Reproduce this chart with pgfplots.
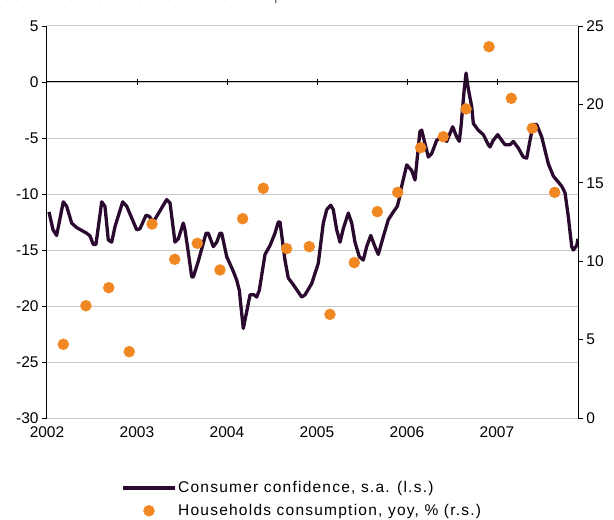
\documentclass[border=0pt]{standalone}
\usepackage{pgfplots}
\pgfplotsset{compat=1.18}
\usepackage{fontspec}
\setmainfont{Liberation Sans}

\definecolor{conf}{RGB}{42,10,46}
\definecolor{cons}{RGB}{240,135,35}
\definecolor{gridgray}{RGB}{200,200,200}

\pgfplotsset{
  base/.style={
    width=531bp, height=392bp, scale only axis,
    xmin=2002, xmax=2007.9,
    tick label style={font=\fontsize{15.5bp}{18bp}\selectfont},
    /pgf/number format/assume math mode=true,
    /pgf/number format/set thousands separator={},
    tick align=outside, major tick length=5bp,
    every tick/.style={black, line width=0.8bp},
    axis line style={black, line width=1bp},
  },
  lineleg/.style={legend image code/.code={\draw[##1] (0bp,0bp) -- (52bp,0bp);}},
  dotleg/.style={legend image code/.code={\draw[##1] plot coordinates {(26bp,0bp)};}},
}

\begin{document}
\begin{tikzpicture}
\begin{axis}[base,
  ymin=-30, ymax=5, ytick={-30,-25,...,5},
  axis y line*=left, axis x line*=bottom,
  x axis line style={draw=none},
  xtick={2002,...,2007}, xtick style={draw=none},
  ymajorgrids, grid style={gridgray, line width=1bp},
  legend style={draw=none, fill=none, at={(0.134,-0.153)}, anchor=north west,
    font=\fontsize{15.5bp}{18bp}\selectfont\addfontfeatures{LetterSpace=8},
    row sep=7bp, nodes={inner sep=1.5bp}},
  legend cell align=left,
]
\addplot[conf, line width=3.3bp, line join=round, lineleg]
coordinates {
(2002.022,-11.6) (2002.067,-13.2) (2002.107,-13.7) (2002.181,-10.7) (2002.219,-11.1)
(2002.274,-12.6) (2002.330,-13.0) (2002.441,-13.5) (2002.478,-13.75) (2002.514,-14.5)
(2002.544,-14.5) (2002.608,-10.7) (2002.644,-11.1) (2002.681,-14.1) (2002.719,-14.3)
(2002.756,-12.9) (2002.841,-10.7) (2002.886,-11.1) (2002.997,-13.2) (2003.033,-13.1)
(2003.100,-11.9) (2003.137,-12.0) (2003.181,-12.5) (2003.330,-10.5) (2003.367,-10.8)
(2003.422,-14.3) (2003.459,-14.0) (2003.514,-12.6) (2003.533,-13.2) (2003.570,-15.2)
(2003.608,-17.4) (2003.626,-17.4) (2003.681,-16.0) (2003.719,-14.9) (2003.767,-13.5)
(2003.792,-13.5) (2003.848,-14.7) (2003.886,-14.3) (2003.922,-13.5) (2003.941,-13.5)
(2003.997,-15.6) (2004.070,-16.9) (2004.108,-17.7) (2004.137,-18.6) (2004.152,-19.8)
(2004.181,-22.0) (2004.219,-20.5) (2004.256,-19.0) (2004.300,-19.0) (2004.330,-19.2)
(2004.359,-18.6) (2004.422,-15.4) (2004.478,-14.6) (2004.533,-13.5) (2004.570,-12.5)
(2004.589,-12.5) (2004.644,-15.9) (2004.681,-17.5) (2004.737,-18.1) (2004.830,-19.2)
(2004.867,-19.0) (2004.941,-18.0) (2005.014,-16.2) (2005.070,-12.6) (2005.108,-11.4)
(2005.152,-11.0) (2005.181,-11.4) (2005.219,-13.2) (2005.256,-14.3) (2005.292,-13.1)
(2005.348,-11.7) (2005.386,-12.6) (2005.422,-14.3) (2005.470,-15.6) (2005.514,-15.9)
(2005.552,-14.7) (2005.597,-13.7) (2005.644,-14.7) (2005.681,-15.4) (2005.737,-13.8)
(2005.792,-12.3) (2005.848,-11.6) (2005.892,-11.1) (2005.914,-10.4) (2005.941,-9.3)
(2005.997,-7.4) (2006.052,-7.9) (2006.089,-8.75) (2006.144,-4.4) (2006.163,-4.3)
(2006.200,-5.5) (2006.237,-6.7) (2006.274,-6.4) (2006.330,-5.2) (2006.386,-4.9)
(2006.441,-5.3) (2006.508,-4.0) (2006.552,-4.9) (2006.581,-5.3) (2006.600,-4.0)
(2006.633,-0.9) (2006.656,0.8) (2006.681,-0.6) (2006.719,-2.2) (2006.737,-3.7)
(2006.792,-4.3) (2006.848,-4.7) (2006.903,-5.6) (2006.922,-5.8) (2006.959,-5.2)
(2007.008,-4.7) (2007.052,-5.2) (2007.089,-5.6) (2007.144,-5.6) (2007.181,-5.3)
(2007.237,-5.9) (2007.292,-6.7) (2007.330,-6.8) (2007.367,-5.2) (2007.403,-3.8)
(2007.441,-3.8) (2007.497,-4.9) (2007.570,-7.3) (2007.626,-8.4) (2007.719,-9.3)
(2007.756,-9.9) (2007.792,-12.0) (2007.830,-14.7) (2007.848,-15.0) (2007.886,-14.6)
(2007.900,-14.0)
};
\addlegendentry{Consumer confidence, s.a. (l.s.)}
\addlegendimage{only marks, mark=*, mark size=5.5bp, cons, dotleg}
\addlegendentry{Households consumption, yoy, \% (r.s.)}
\end{axis}

% zero line with year ticks
\begin{axis}[base,
  ymin=-30, ymax=5,
  axis x line=middle, axis y line=none,
  x axis line style={-},
  xtick={2003,...,2007}, xticklabels={},
  major tick length=6bp,
]
\end{axis}

\begin{axis}[base,
  ymin=0, ymax=25, ytick={0,5,...,25},
  axis y line*=right, axis x line=none,
]
\addplot[only marks, mark=*, mark size=5.5bp, cons] coordinates {
(2002.181,4.70) (2002.433,7.16) (2002.686,8.31) (2002.914,4.23)
(2003.167,12.37) (2003.419,10.12) (2003.670,11.14) (2003.922,9.44)
(2004.174,12.71) (2004.403,14.65) (2004.663,10.80) (2004.914,10.93)
(2005.144,6.61) (2005.414,9.91) (2005.670,13.16) (2005.897,14.39)
(2006.152,17.24) (2006.403,17.94) (2006.656,19.71) (2006.911,23.68)
(2007.159,20.39) (2007.392,18.48) (2007.641,14.39)
};
\end{axis}

\node[anchor=base west, text=black!55, inner sep=0pt,
  font=\fontsize{15.5bp}{18bp}\selectfont\addfontfeatures{LetterSpace=8}]
  at (-46bp,417.6bp) {Consumer confidence and consumption};
\pgfresetboundingbox
\useasboundingbox (-47bp,-102bp) rectangle (567bp,418bp);
\end{tikzpicture}
\end{document}
